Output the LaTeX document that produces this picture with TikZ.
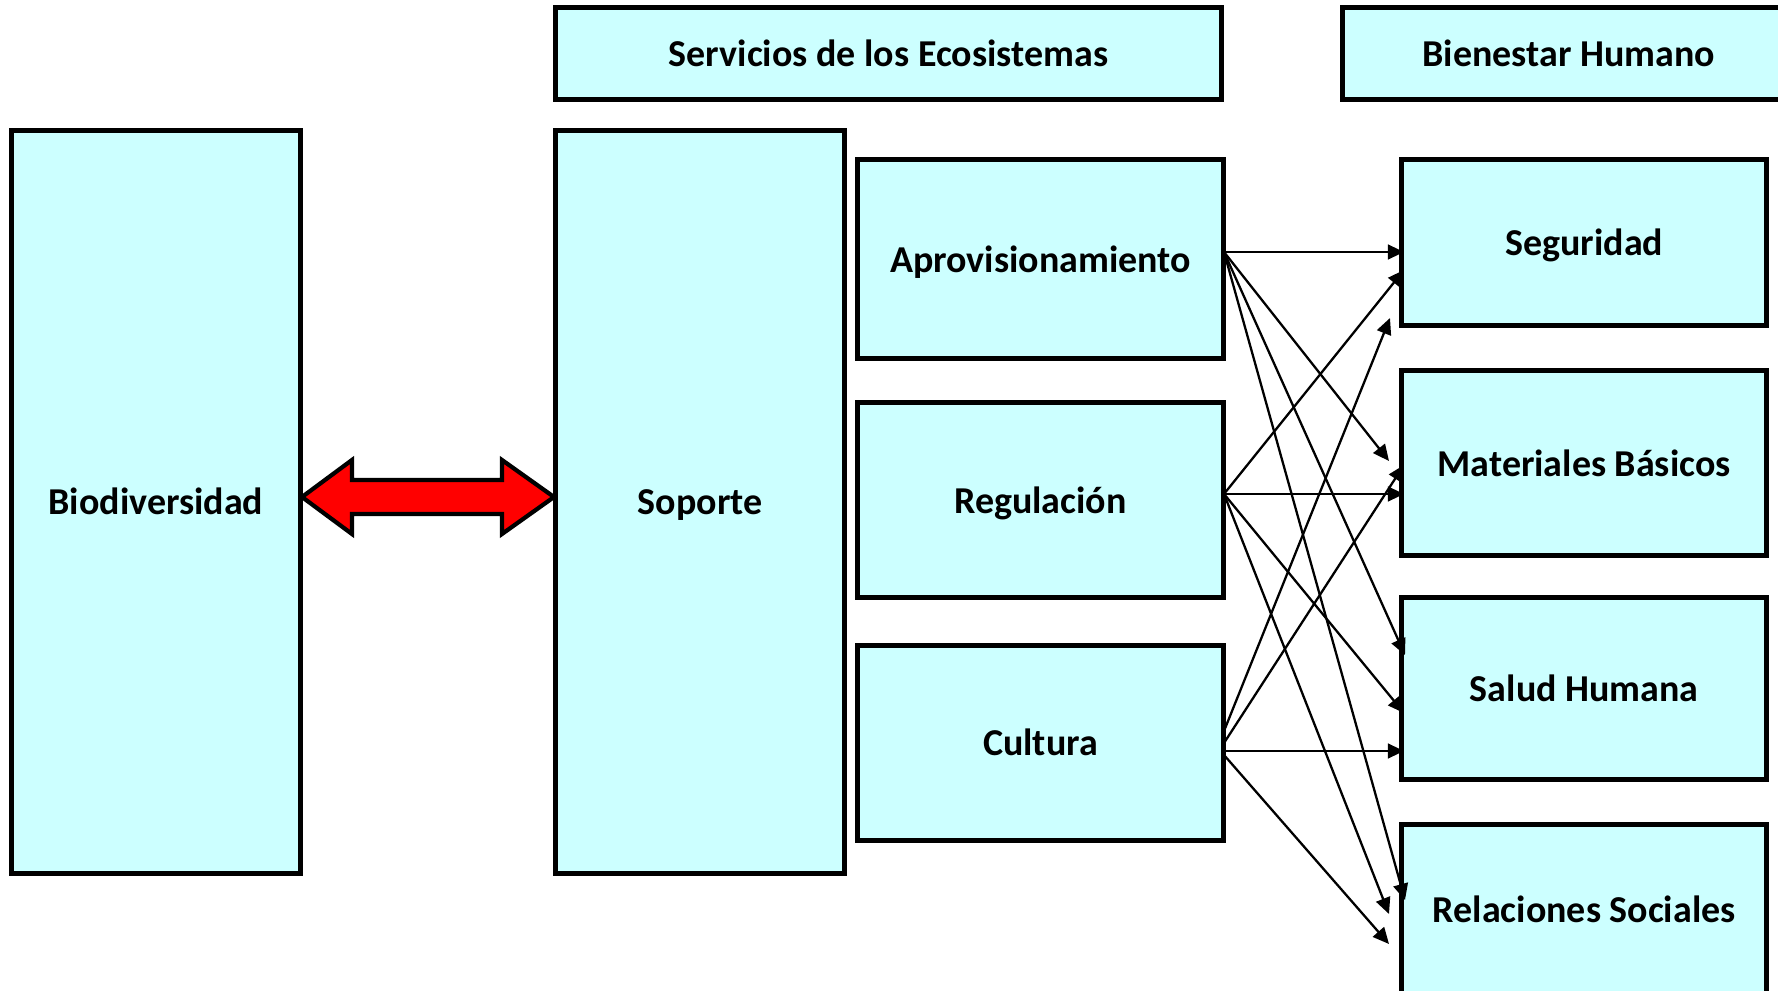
\documentclass[tikz,border=0pt]{standalone}
\usepackage{fontspec}
\setmainfont{Carlito}
\usetikzlibrary{arrows.meta}
\definecolor{boxcyan}{RGB}{204,255,255}
\begin{document}
\begin{tikzpicture}[x=0.01cm,y=-0.01cm,
  box/.style={draw=black,line width=1.45pt,fill=boxcyan,inner sep=0pt,text height=1.55ex,text depth=0pt,font=\fontsize{10.8}{12}\selectfont\bfseries},
  link/.style={line width=0.65pt,-{Triangle[length=4.6pt,width=4.2pt]}},
  bigarrow/.style={draw=black,line width=1.2pt,fill=red,line join=miter}]
\useasboundingbox (0,0) rectangle (1778,991);
\clip (0,0) rectangle (1778,991);
\fill[white] (0,0) rectangle (1778,991);
% boxes
\node[box,minimum width=2.892cm,minimum height=7.428cm] (bio) at (155.9,501.8) {Biodiversidad};
\node[box,minimum width=2.892cm,minimum height=7.428cm] (sop) at (700.2,501.8) {Soporte};
\node[box,minimum width=6.657cm,minimum height=0.919cm] (serv) at (888.5,53.9) {Servicios de los Ecosistemas};
\node[box,minimum width=4.524cm,minimum height=0.919cm] (bien) at (1568.8,53.9) {Bienestar Humano};
\node[box,minimum width=3.663cm,minimum height=1.984cm] (apro) at (1040.5,259.1) {Aprovisionamiento};
\node[box,minimum width=3.663cm,minimum height=1.950cm] (reg) at (1040.5,500.1) {Regulación};
\node[box,minimum width=3.663cm,minimum height=1.951cm] (cul) at (1040.5,742.8) {Cultura};
\node[box,minimum width=3.652cm,minimum height=1.656cm] (seg) at (1584.2,242.7) {Seguridad};
\node[box,minimum width=3.652cm,minimum height=1.849cm] (mat) at (1584.2,463.3) {Materiales Básicos};
\node[box,minimum width=3.652cm,minimum height=1.815cm] (sal) at (1584.2,688.4) {Salud Humana};
\node[box,minimum width=3.652cm,minimum height=1.696cm] (rel) at (1584.2,909.2) {Relaciones Sociales};
% red double arrow
\draw[bigarrow] (302,497) -- (352,460) -- (352,480) -- (502,480) -- (502,460) -- (554,497)
  -- (502,534) -- (502,514) -- (352,514) -- (352,534) -- cycle;
% sources
\coordinate (a0) at (1224,252);
\coordinate (r0) at (1224,494);
\coordinate (c1) at (1224,731);
\coordinate (c2) at (1224,743);
\coordinate (c3) at (1224,751);
\coordinate (c4) at (1224,755);
% targets
\coordinate (t1) at (1404,252);
\coordinate (t2) at (1389,461);
\coordinate (t3) at (1405,655);
\coordinate (t4) at (1405,900);
\coordinate (t5) at (1404,270);
\coordinate (t6) at (1404,494);
\coordinate (t7) at (1404,713);
\coordinate (t8) at (1389,914);
\coordinate (t9) at (1390,318);
\coordinate (t10) at (1404,465);
\coordinate (t11) at (1404,751);
\coordinate (t12) at (1389,944);
\draw[link] (a0) -- (t1);
\draw[link] (a0) -- (t2);
\draw[link] (a0) -- (t3);
\draw[link] (a0) -- (t4);
\draw[link] (r0) -- (t5);
\draw[link] (r0) -- (t6);
\draw[link] (r0) -- (t7);
\draw[link] (r0) -- (t8);
\draw[link] (c1) -- (t9);
\draw[link] (c2) -- (t10);
\draw[link] (c3) -- (t11);
\draw[link] (c4) -- (t12);
\end{tikzpicture}
\end{document}
